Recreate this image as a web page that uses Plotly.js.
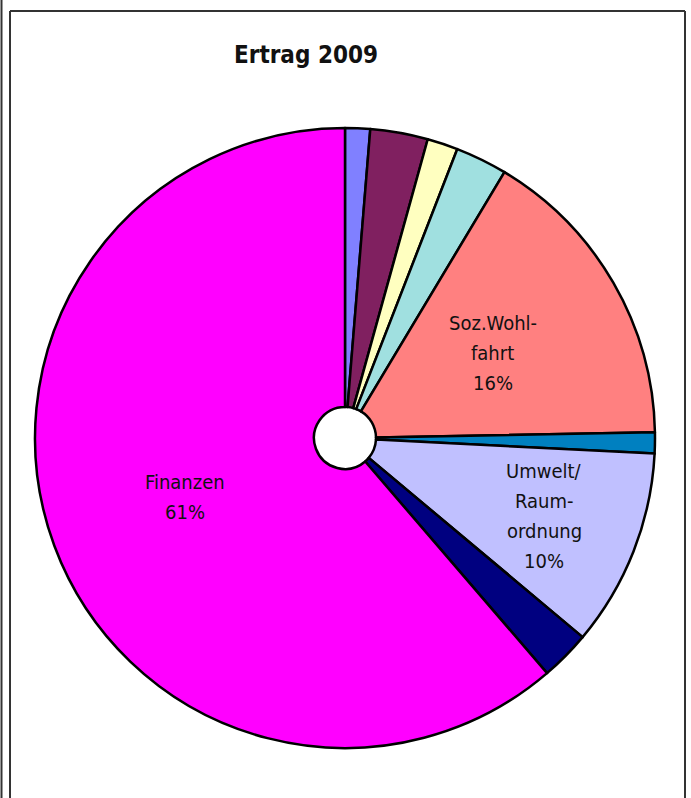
<!DOCTYPE html>
<html>
<head>
<meta charset="utf-8">
<script src="https://cdn.plot.ly/plotly-3.0.1.min.js"></script>
<style>
  html, body { margin: 0; padding: 0; background: #ffffff; }
  #chart { width: 691px; height: 798px; }
</style>
</head>
<body>
<div id="chart"></div>
<script>
// ---- data ----
const categories = [
  "Allgemeine Verwaltung",
  "Öffentliche Sicherheit",
  "Bildung",
  "Kultur/Freizeit",
  "Soz.Wohlfahrt",
  "Verkehr",
  "Umwelt/Raumordnung",
  "Volkswirtschaft",
  "Finanzen"
];
const shares = [1.3, 3.0, 1.6, 2.7, 16.1, 1.1, 10.3, 2.6, 61.3];
const sliceColors = ["#8080FF", "#802060", "#FFFFC0", "#A0E0E0", "#FF8080", "#0080C0", "#C0C0FF", "#000080", "#FF00FF"];
// visible labels (split over lines as in the original); empty = no label
const labelLines = [[], [], [], [], ["Soz.Wohl-", "fahrt"], [], ["Umwelt/", "Raum-", "ordnung"], [], ["Finanzen"]];
const titleText = "Ertrag 2009";

// ---- layout geometry (pixels) ----
const W = 691, H = 798;
const cx = 345, cy = 438, R = 310;
const labelRadius = [0, 0, 0, 0, 0.55, 0, 0.69, 0, 0.55];
const lineGap = 30;
const FONT = "DejaVu Sans Condensed, DejaVu Sans, sans-serif";

const total = shares.reduce((a, b) => a + b, 0);
const annotations = [];
let cum = 0;
shares.forEach((v, i) => {
  const mid = (cum + v / 2) / total * 2 * Math.PI; // clockwise from top
  cum += v;
  if (!labelLines[i].length) return;
  const px = cx + labelRadius[i] * R * Math.sin(mid);
  const py = cy - labelRadius[i] * R * Math.cos(mid);
  const lines = labelLines[i].concat([Math.round(v / total * 100) + "%"]);
  const n = lines.length;
  lines.forEach((t, k) => {
    const ly = py + (k - (n - 1) / 2) * lineGap;
    annotations.push({
      text: t, showarrow: false,
      xref: "paper", yref: "paper",
      x: px / W, y: 1 - ly / H,
      xanchor: "center", yanchor: "middle",
      font: { family: FONT, size: 20, color: "#111111" }
    });
  });
});

const frameColor = "#333333";
const shapes = [
  { type: "line", xref: "paper", yref: "paper", x0: 1.5 / W, x1: 1.5 / W, y0: 0, y1: 1, line: { color: frameColor, width: 2 } },
  { type: "line", xref: "paper", yref: "paper", x0: 10 / W, x1: 10 / W, y0: 0, y1: 1 - 11 / H, line: { color: frameColor, width: 2 } },
  { type: "line", xref: "paper", yref: "paper", x0: 10 / W, x1: 685 / W, y0: 1 - 11 / H, y1: 1 - 11 / H, line: { color: frameColor, width: 2 } },
  { type: "line", xref: "paper", yref: "paper", x0: 685 / W, x1: 685 / W, y0: 0, y1: 1 - 11 / H, line: { color: frameColor, width: 2 } }
];

const trace = {
  type: "pie",
  labels: categories,
  values: shares,
  sort: false,
  direction: "clockwise",
  rotation: 0,
  hole: 0.1,
  textinfo: "none",
  hoverinfo: "label+percent",
  marker: { colors: sliceColors, line: { color: "#000000", width: 2.5 } },
  domain: { x: [(cx - R) / W, (cx + R) / W], y: [1 - (cy + R) / H, 1 - (cy - R) / H] },
  showlegend: false
};

const layout = {
  width: W, height: H,
  margin: { l: 0, r: 0, t: 0, b: 0 },
  paper_bgcolor: "#ffffff",
  showlegend: false,
  title: {
    text: titleText,
    xref: "paper", yref: "paper",
    x: 306 / W, y: 1 - 55 / H,
    xanchor: "center", yanchor: "middle",
    font: { family: FONT, size: 24, weight: "bold", color: "#111111" }
  },
  annotations: annotations,
  shapes: shapes
};

Plotly.newPlot("chart", [trace], layout, { displayModeBar: false, staticPlot: true });
</script>
</body>
</html>
